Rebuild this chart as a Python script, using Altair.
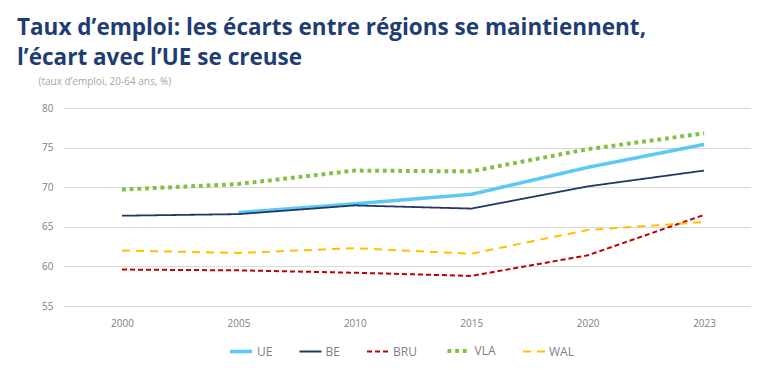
import altair as alt
import pandas as pd

years = ["2000", "2005", "2010", "2015", "2020", "2023"]
series = ["UE", "BE", "BRU", "VLA", "WAL"]
ue = [None, 66.8, 67.9, 69.1, 72.5, 75.4]
be = [66.4, 66.6, 67.7, 67.3, 70.1, 72.1]
bru = [59.6, 59.5, 59.2, 58.8, 61.4, 66.5]
vla = [69.7, 70.4, 72.1, 72.0, 74.8, 76.8]
wal = [62.0, 61.7, 62.3, 61.6, 64.6, 65.6]

colors = ["#5bc8f5", "#203864", "#c00000", "#7dc242", "#ffc000"]
dashes = [[1, 0], [1, 0], [5, 3], [3.8, 3.9], [8, 6]]
widths = [3.5, 1.8, 2, 4, 2]

rows = []
for name, vals in zip(series, [ue, be, bru, vla, wal]):
    for y, v in zip(years, vals):
        if v is not None:
            rows.append({"year": y, "series": name, "value": v})
df = pd.DataFrame(rows)

x = alt.X("year:O", title=None,
          scale=alt.Scale(type="point", padding=0.455, align=0.557),
          axis=alt.Axis(labelAngle=0, domain=False, ticks=False, grid=False,
                        labelColor="#808080", labelFontSize=10, labelPadding=12,
                        labelFont="Open Sans"))
y = alt.Y("value:Q",
          scale=alt.Scale(domain=[55, 80], nice=False, zero=False),
          axis=alt.Axis(values=[55, 60, 65, 70, 75, 80], domain=False, ticks=False,
                        gridColor="#d9d9d9", gridWidth=1,
                        labelColor="#808080", labelFontSize=10, labelPadding=10,
                        labelFont="Open Sans",
                        title="(taux d’emploi, 20-64 ans, %)",
                        titleAngle=0, titleAlign="left", titleBaseline="alphabetic",
                        titleX=-25, titleY=-24, titleFontSize=10,
                        titleFontWeight="normal", titleColor="#a6a6a6",
                        titleFont="Open Sans"))

legend = alt.Legend(
    title=None, orient="none", direction="horizontal", legendX=165, legendY=230,
    symbolType="stroke", symbolSize=484, columnPadding=22.5, labelOffset=3,
    labelFontSize=12, labelColor="#7f7f7f", labelFont="Open Sans")

color = alt.Color("series:N", scale=alt.Scale(domain=series, range=colors), legend=legend)
dash = alt.StrokeDash("series:N", scale=alt.Scale(domain=series, range=dashes), legend=legend)
width = alt.StrokeWidth("series:N",
                        scale=alt.Scale(type="ordinal", domain=series, range=widths),
                        legend=legend)

chart = alt.Chart(df).mark_line(strokeCap="butt").encode(
    x=x, y=y, color=color, strokeDash=dash, strokeWidth=width,
    order=alt.Order("year:O"),
).properties(
    width=688, height=198,
    autosize=alt.AutoSizeParams(type="none"),
    padding={"left": 55, "top": 100, "right": 0, "bottom": 56},
    title=alt.TitleParams(
        text=["Taux d’emploi: les écarts entre régions se maintiennent,",
              "l’écart avec l’UE se creuse"],
        anchor="start", dx=-21, fontSize=22.5, fontWeight="bold", color="#1f3d73",
        font="Open Sans", lineHeight=30, offset=7),
).configure_view(stroke=None)

chart.save("out.html", embed_options={"renderer": "svg", "actions": False})
